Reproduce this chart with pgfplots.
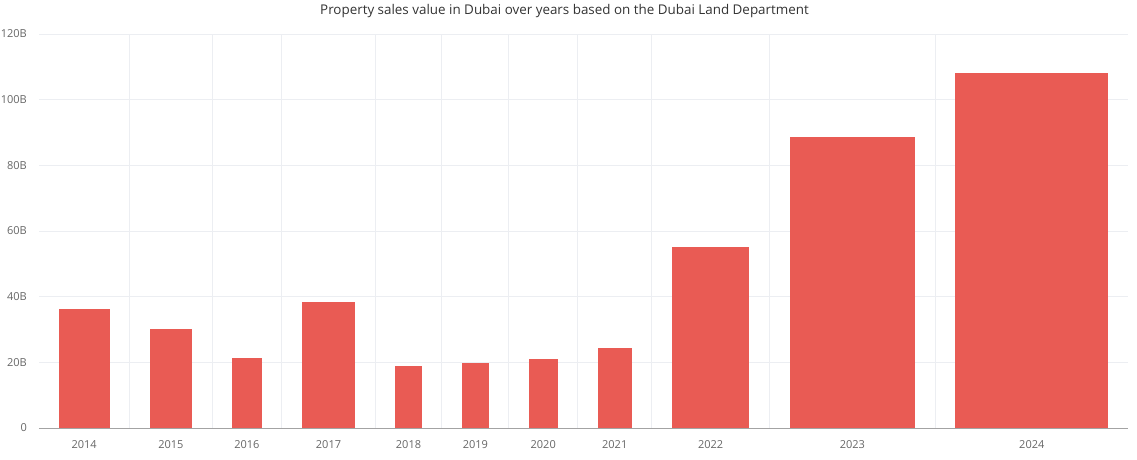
\documentclass[border=0pt]{standalone}
\usepackage{pgfplots}
\pgfplotsset{compat=1.18}
\usepackage{fontspec}
\setmainfont{Open Sans}
\definecolor{barred}{HTML}{E95B54}
\definecolor{gridc}{HTML}{ECEEF2}
\definecolor{axisgray}{HTML}{A3A3A3}
\definecolor{labc}{HTML}{666666}
\definecolor{titlec}{HTML}{333333}
\begin{document}
\begin{tikzpicture}[x=1pt,y=1pt]
\useasboundingbox (0,0) rectangle (1137,459);
\node[font=\fontsize{13.4}{15}\selectfont, text=titlec] at (564.5,447.5) {Property sales value in Dubai over years based on the Dubai Land Department};
\begin{axis}[
 at={(39pt,31pt)}, anchor=south west,
 scale only axis, width=1089pt, height=394pt,
 xmin=0, xmax=1089, ymin=0, ymax=120,
 axis x line*=bottom, axis y line*=left,
 y axis line style={draw=none},
 x axis line style={draw=axisgray, line width=0.9pt},
 ytick={0,20,40,60,80,100,120},
 yticklabels={0,20B,40B,60B,80B,100B,120B},
 xtick={45.2,131.85,207.85,289.5,369.5,436.35,504.2,575.7,671.65,813.35,992.8},
 xticklabels={2014,2015,2016,2017,2018,2019,2020,2021,2022,2023,2024},
 minor xtick={90.3,173,242.7,336.7,402.7,469.7,538.7,612.7,730.3,896.3},
 xminorgrids, ymajorgrids,
 major grid style={draw=gridc, line width=0.9pt},
 minor grid style={draw=gridc, line width=0.9pt},
 major tick length=0pt, minor tick length=0pt,
 tick label style={font=\fontsize{11}{13}\selectfont, text=labc},
 yticklabel style={anchor=east, inner sep=0pt, xshift=-12pt},
 xticklabel style={anchor=north, inner sep=0pt, yshift=-12.5pt},
 /pgf/number format/assume math mode=true,
]
% bars: (left edge, right edge, value in billions)
\addplot[fill=barred, draw=none] coordinates {(19.7,0) (19.7,36.2) (70.7,36.2) (70.7,0)};
\addplot[fill=barred, draw=none] coordinates {(110.7,0) (110.7,30.2) (153.0,30.2) (153.0,0)};
\addplot[fill=barred, draw=none] coordinates {(193.0,0) (193.0,21.3) (222.7,21.3) (222.7,0)};
\addplot[fill=barred, draw=none] coordinates {(262.7,0) (262.7,38.4) (316.3,38.4) (316.3,0)};
\addplot[fill=barred, draw=none] coordinates {(356.3,0) (356.3,18.9) (382.7,18.9) (382.7,0)};
\addplot[fill=barred, draw=none] coordinates {(422.7,0) (422.7,19.7) (450.0,19.7) (450.0,0)};
\addplot[fill=barred, draw=none] coordinates {(489.7,0) (489.7,20.9) (518.7,20.9) (518.7,0)};
\addplot[fill=barred, draw=none] coordinates {(558.7,0) (558.7,24.5) (592.7,24.5) (592.7,0)};
\addplot[fill=barred, draw=none] coordinates {(633.0,0) (633.0,55.1) (710.3,55.1) (710.3,0)};
\addplot[fill=barred, draw=none] coordinates {(750.7,0) (750.7,88.6) (876.0,88.6) (876.0,0)};
\addplot[fill=barred, draw=none] coordinates {(916.3,0) (916.3,108.1) (1069.3,108.1) (1069.3,0)};
\end{axis}
\end{tikzpicture}
\end{document}
